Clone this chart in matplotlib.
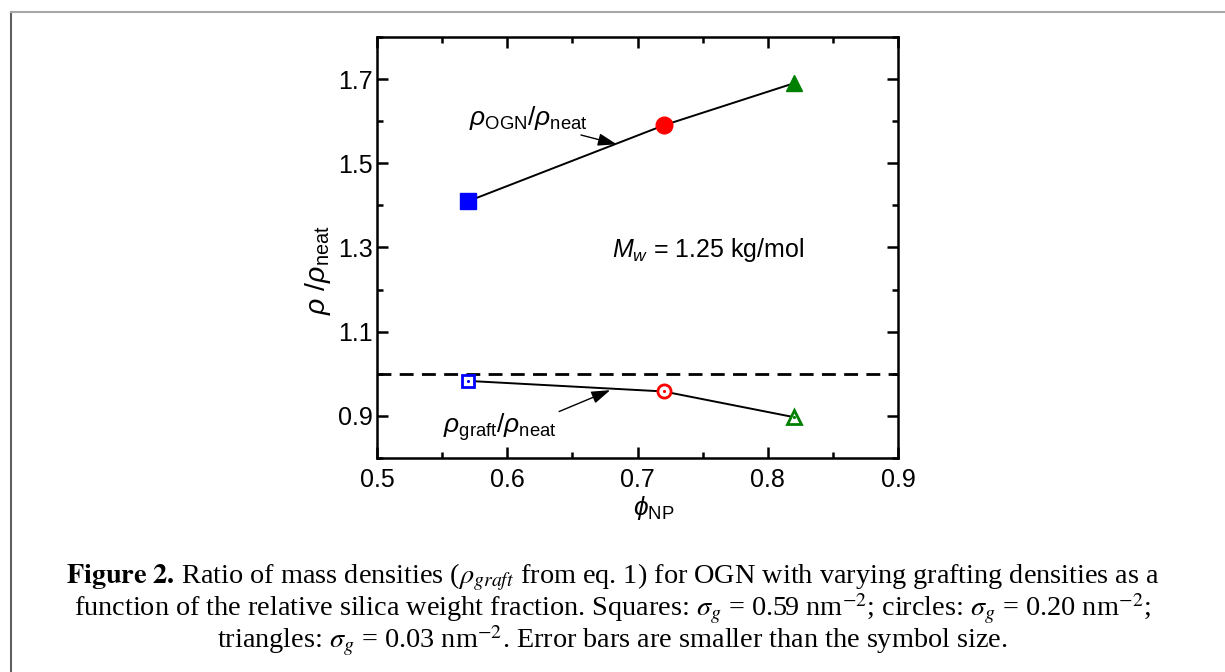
import numpy as np
import matplotlib.pyplot as plt
from matplotlib.lines import Line2D
from matplotlib.ticker import MultipleLocator

plt.rcParams['font.family'] = ['Liberation Sans', 'DejaVu Sans']
plt.rcParams['mathtext.fontset'] = 'custom'
plt.rcParams['mathtext.rm'] = 'Liberation Sans'
plt.rcParams['mathtext.it'] = 'Liberation Sans:italic'
plt.rcParams['mathtext.bf'] = 'Liberation Sans:bold'

# datos
phi_np = [0.57, 0.72, 0.82]
rho_ogn = [1.41, 1.59, 1.69]      # rho_OGN / rho_neat
rho_graft = [0.983, 0.958, 0.897]  # rho_graft / rho_neat
colores = ['#0000ff', '#ff0000', '#008000']
simbolos = ['s', 'o', '^']
tam_lleno = [11, 12, 12]
tam_vacio = [8.5, 9.5, 10]

fig = plt.figure(figsize=(12.25, 6.72), dpi=100)
ax = fig.add_axes([0.3078, 0.3185, 0.4253, 0.6265])

# lineas
ax.plot(phi_np, rho_ogn, 'k-', lw=1.4, zorder=2)
ax.plot(phi_np, rho_graft, 'k-', lw=1.4, zorder=2)
ax.axhline(1.0, color='k', lw=2, ls=(0, (5, 3)), zorder=1)

# simbolos
for x, y1, y2, c, m, s1, s2 in zip(phi_np, rho_ogn, rho_graft, colores, simbolos, tam_lleno, tam_vacio):
    ax.plot(x, y1, marker=m, color=c, ms=s1, mec=c, ls='none', zorder=3)
    ax.plot(x, y2, marker=m, mfc='white', mec=c, mew=2, ms=s2, ls='none', zorder=3)
    ax.plot(x, y2, marker='.', color=c, ms=2.5, ls='none', zorder=4)

ax.set_xlim(0.5, 0.9)
ax.set_ylim(0.8, 1.8)
ax.set_xticks([0.5, 0.6, 0.7, 0.8, 0.9])
ax.set_yticks([0.9, 1.1, 1.3, 1.5, 1.7])
ax.xaxis.set_minor_locator(MultipleLocator(0.05))
ax.yaxis.set_minor_locator(MultipleLocator(0.1))
ax.tick_params(which='both', direction='in', top=True, right=True, width=1.8)
ax.tick_params(which='major', length=8)
ax.tick_params(which='minor', length=4.5)
ax.tick_params(axis='x', labelsize=18, pad=7)
ax.tick_params(axis='y', labelsize=18, pad=3)
for sp in ax.spines.values():
    sp.set_linewidth(1.8)

# textos dentro de la grafica
ax.annotate(r'$\rho_{\rm OGN}$/$\rho_{\rm neat}$', xy=(0.684, 1.545), xytext=(0.616, 1.607),
            fontsize=19, ha='center', va='center',
            arrowprops=dict(arrowstyle='-|>,head_length=0.6,head_width=0.2', color='k', lw=1.0,
                            shrinkA=0, shrinkB=0, relpos=(0.9, -0.05)))
ax.annotate(r'$\rho_{\rm graft}$/$\rho_{\rm neat}$', xy=(0.679, 0.961), xytext=(0.594, 0.874),
            fontsize=19, ha='center', va='center',
            arrowprops=dict(arrowstyle='-|>,head_length=0.6,head_width=0.2', color='k', lw=1.0,
                            shrinkA=0, shrinkB=0, relpos=(0.97, 0.9)))
ax.text(0.754, 1.293, r'$M_w$ = 1.25 kg/mol', fontsize=18, ha='center', va='center')

# etiquetas de los ejes
fig.text(318/1225, 1 - 270/672, r'$\rho$ /$\rho_{\rm neat}$', rotation=90, fontsize=20.5, ha='center', va='center')
fig.text(654/1225, 1 - 508/672, r'$\phi_{\rm NP}$', fontsize=19, ha='center', va='center')

# pie de figura
cap = dict(fontsize=20.3, ha='center', va='center', family=['Liberation Serif', 'DejaVu Serif'],
           math_fontfamily='stix')
fig.text(0.5, 1 - 577/672, r'$\mathbf{Figure\ 2.}\,$Ratio of mass densities ($\rho_{graft}$ from eq. 1) '
         r'for OGN with varying grafting densities as a', **cap)
fig.text(0.5, 1 - 609/672, r'function of the relative silica weight fraction. Squares: $\sigma_g$ = 0.59 nm$^{-2}$; '
         r'circles: $\sigma_g$ = 0.20 nm$^{-2}$;', **cap)
fig.text(0.5, 1 - 641/672, r'triangles: $\sigma_g$ = 0.03 nm$^{-2}$. Error bars are smaller than the symbol size.', **cap)

# marco
fig.add_artist(Line2D([11/1225, 11/1225], [0, 1 - 12/672], transform=fig.transFigure, color='#606060', lw=1.5))
fig.add_artist(Line2D([11/1225, 1], [1 - 12/672, 1 - 12/672], transform=fig.transFigure, color='#a8a8a8', lw=1.5))

fig.savefig('out.png', dpi=100)
